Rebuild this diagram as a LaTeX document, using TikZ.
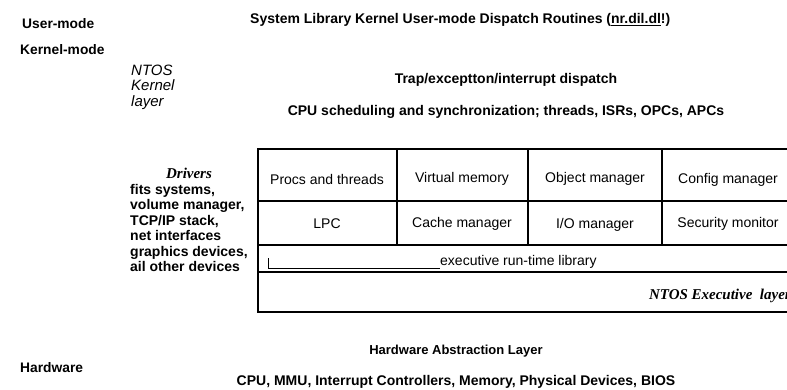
\documentclass[tikz,border=0pt]{standalone}
\usepackage{fontspec}
\setmainfont{Liberation Sans}
\newfontfamily\timesfont{Liberation Serif}
\usetikzlibrary{positioning}
\tikzset{
  modelabel/.style={anchor=west, inner sep=0pt, font=\fontsize{13.8}{15}\selectfont\bfseries},
  layertext/.style={inner sep=0pt, font=\fontsize{14}{15}\selectfont\bfseries},
  listtext/.style={anchor=west, inner sep=0pt, align=left, font=\fontsize{14}{15.4}\selectfont\bfseries},
  kerneltext/.style={anchor=west, inner sep=0pt, align=left, font=\fontsize{15}{15.5}\selectfont\itshape},
  titletext/.style={inner sep=0pt, font=\fontsize{15}{15}\selectfont\timesfont\bfseries\itshape},
  cell/.style={inner sep=0pt, font=\fontsize{14}{16}\selectfont},
  gridline/.style={draw=black, line width=1.1pt},
  thinline/.style={draw=black, line width=0.8pt}
}

\begin{document}
\begin{tikzpicture}[x=1pt, y=-1pt]
        \useasboundingbox (0,0) rectangle (787,389);
        % modes
        \node[modelabel] (um) at (22,24) {User-mode};
        \node[modelabel] (km) at (20,50) {Kernel-mode};
        \node[modelabel] (hw) at (20,368) {Hardware};
        % kernel layer
        \node[layertext, anchor=west] (lib) at (250,20) {System Library Kernel User-mode Dispatch Routines (\underline{nr.dil.dl}!)};
        \node[kerneltext] (ntk) at (131,87) {NTOS\\Kernel\\layer};
        \node[layertext] (trap) at (506,80) {Trap/exceptton/interrupt dispatch};
        \node[layertext] (sched) at (506,112) {CPU scheduling and synchronization; threads, ISRs, OPCs, APCs};
        % drivers
        \node[titletext] (drv) at (189,173) {Drivers};
        \node[listtext] (drvlist) at (130,228) {fits systems,\\volume manager,\\TCP/IP stack,\\net interfaces\\graphics devices,\\ail other devices};
        % executive table
        \draw[gridline] (787,149) -- (258,149) -- (258,312) -- (787,312);
        \draw[gridline] (258,201) -- (787,201);
        \draw[gridline] (258,245) -- (787,245);
        \draw[gridline] (258,272) -- (787,272);
        \foreach \cx in {397,528,662}
          \draw[gridline] (\cx,149) -- (\cx,245);
        \node[cell] (procs) at (327,179) {Procs and threads};
        \node[cell] (vm) at (462,179) {Virtual memory};
        \node[cell] (objm) at (595,179) {Object manager};
        \node[cell] (cfgm) at (728,180) {Config manager};
        \node[cell] (lpc) at (327,224) {LPC};
        \node[cell] (cachem) at (462,224) {Cache manager};
        \node[cell] (iom) at (595,225) {I/O manager};
        \node[cell] (secm) at (728,224) {Security monitor};
        \coordinate (tick) at (268,258);
        \coordinate (tickend) at (440,268);
        \draw[thinline] (tick) -- (tick |- tickend) -- (tickend);
        \node[cell, anchor=west] (rtl) at (tickend |- 0,262) {executive run-time library};
        \node[titletext, anchor=east] (ntex) at (791,296) {NTOS Executive\ \ layer};
        % hal and hardware
        \node[layertext, font=\fontsize{13}{15}\selectfont\bfseries] (hal) at (456,351) {Hardware Abstraction Layer};
        \node[layertext] (devs) at (456,382) {CPU, MMU, Interrupt Controllers, Memory, Physical Devices, BIOS};
      \end{tikzpicture}
\end{document}
